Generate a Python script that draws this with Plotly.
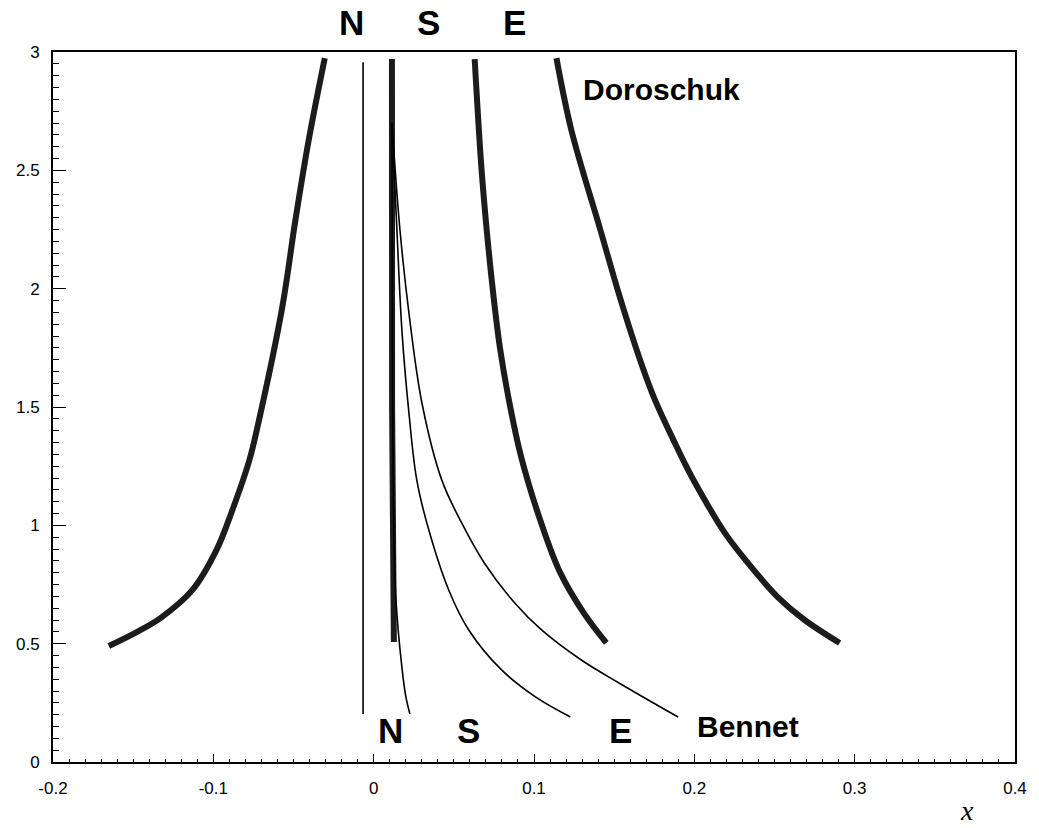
import plotly.graph_objects as go

# ---- Doroschuk (thick) curves ----
dor_n_x = [-0.1652, -0.1478, -0.1330, -0.1130, -0.0980, -0.0881, -0.0775, -0.0715, -0.0570, -0.0488, -0.0405, -0.0305]
dor_n_y = [0.490, 0.549, 0.608, 0.727, 0.896, 1.065, 1.276, 1.445, 1.922, 2.290, 2.628, 2.974]

dor_s_x = [0.0114, 0.0115, 0.0126]
dor_s_y = [2.970, 1.500, 0.507]

dor_e_x = [0.0630, 0.0670, 0.0705, 0.0748, 0.0787, 0.0840, 0.0920, 0.1060, 0.1165, 0.1310, 0.1451]
dor_e_y = [2.970, 2.530, 2.248, 1.965, 1.753, 1.542, 1.289, 0.980, 0.798, 0.630, 0.503]

dor_r_x = [0.1140, 0.1233, 0.1414, 0.1535, 0.1668, 0.1755, 0.1870, 0.1961, 0.2065, 0.2191, 0.2334, 0.2520, 0.2688, 0.2906]
dor_r_y = [2.974, 2.670, 2.248, 1.965, 1.686, 1.529, 1.360, 1.234, 1.107, 0.967, 0.841, 0.697, 0.600, 0.503]

# ---- Bennet (thin) curves ----
ben_v_x = [-0.0066, -0.0066]
ben_v_y = [0.203, 2.957]

ben_n_x = [0.0114, 0.0118, 0.0125, 0.0139, 0.0176, 0.0201, 0.0226]
ben_n_y = [2.700, 1.500, 1.000, 0.684, 0.401, 0.275, 0.203]

ben_s_x = [0.0114, 0.0145, 0.0176, 0.0220, 0.0269, 0.0344, 0.0468, 0.0593, 0.0798, 0.1009, 0.1227]
ben_s_y = [2.700, 2.248, 1.825, 1.474, 1.191, 0.980, 0.727, 0.558, 0.389, 0.275, 0.190]

ben_e_x = [0.0114, 0.0164, 0.0220, 0.0301, 0.0425, 0.0549, 0.0690, 0.0880, 0.1047, 0.1295, 0.1530, 0.1899]
ben_e_y = [2.700, 2.248, 1.897, 1.517, 1.191, 1.010, 0.841, 0.672, 0.558, 0.431, 0.334, 0.190]

# ---- tick labels ----
x_tickvals = [-0.2, -0.1, 0, 0.1, 0.2, 0.3, 0.4]
x_ticktext = ["-0.2", "-0.1", "0", "0.1", "0.2", "0.3", "0.4"]
y_tickvals = [0, 0.5, 1, 1.5, 2, 2.5, 3]
y_ticktext = ["0", "0.5", "1", "1.5", "2", "2.5", "3"]

THICK = "#1c1c1c"
fig = go.Figure()
for xs, ys in [(dor_n_x, dor_n_y), (dor_s_x, dor_s_y), (dor_e_x, dor_e_y), (dor_r_x, dor_r_y)]:
    fig.add_trace(go.Scatter(x=xs, y=ys, mode="lines", line=dict(color=THICK, width=6, shape="spline", smoothing=1.0),
                             showlegend=False, hoverinfo="skip"))
for xs, ys in [(ben_v_x, ben_v_y), (ben_n_x, ben_n_y), (ben_s_x, ben_s_y), (ben_e_x, ben_e_y)]:
    fig.add_trace(go.Scatter(x=xs, y=ys, mode="lines", line=dict(color="black", width=1.6, shape="spline", smoothing=1.0),
                             showlegend=False, hoverinfo="skip"))

big = dict(family="Liberation Sans, Arial, sans-serif", size=35, color="black", weight="bold")
mid = dict(family="Liberation Sans, Arial, sans-serif", size=30, color="black", weight="bold")
annos = [
    dict(x=-0.0141, y=1.042, yref="paper", text="N", font=big),
    dict(x=0.0344, y=1.042, yref="paper", text="S", font=big),
    dict(x=0.0879, y=1.042, yref="paper", text="E", font=big),
    dict(x=0.0108, y=0.135, text="N", font=big),
    dict(x=0.0593, y=0.135, text="S", font=big),
    dict(x=0.1538, y=0.135, text="E", font=big),
    dict(x=0.2004, y=0.152, text="Bennet", font=mid, xanchor="left"),
    dict(x=0.1295, y=2.843, text="Doroschuk", font=mid, xanchor="left"),
    dict(x=0.370, y=-0.068, yref="paper", text="<i>x</i>",
         font=dict(family="Liberation Serif, Times New Roman, serif", size=28, color="black")),
]
for a in annos:
    a.setdefault("xanchor", "center")
    a.setdefault("yref", "y")
    a.update(xref="x", showarrow=False, yanchor="middle")
fig.update_layout(annotations=annos)

axis_common = dict(showline=True, linecolor="black", linewidth=2, mirror=True, showgrid=False, zeroline=False,
                   ticks="inside", tickcolor="black", tickwidth=1,
                   tickfont=dict(family="Liberation Sans, Arial, sans-serif", size=17, color="black"))
fig.update_xaxes(range=[-0.2, 0.4], tickvals=x_tickvals, ticktext=x_ticktext, ticklen=8, ticklabelstandoff=10,
                 minor=dict(ticks="inside", dtick=0.01, ticklen=3, tickcolor="black"), **axis_common)
fig.update_yaxes(range=[0, 3], tickvals=y_tickvals, ticktext=y_ticktext, ticklen=13, ticklabelstandoff=8,
                 minor=dict(ticks="inside", dtick=0.05, ticklen=6, tickcolor="black"), **axis_common)

fig.update_layout(width=1039, height=828, margin=dict(l=53, r=21, t=52, b=66),
                  plot_bgcolor="white", paper_bgcolor="white")
fig.write_html("out.html")
